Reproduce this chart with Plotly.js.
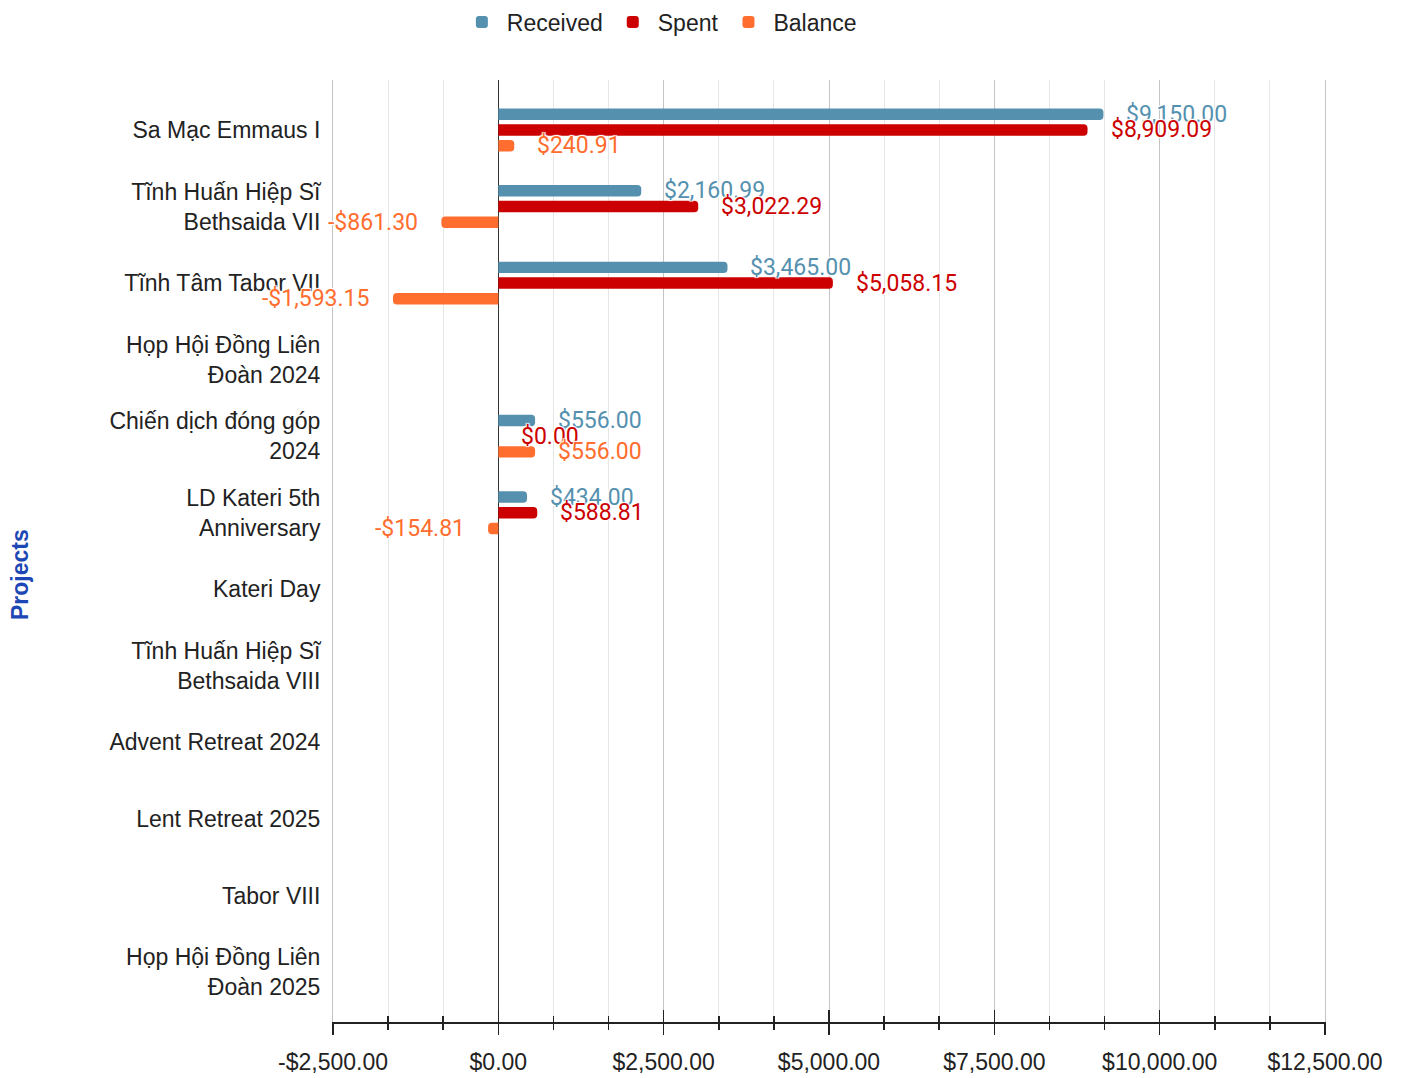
<!DOCTYPE html>
<html>
<head>
<meta charset="utf-8">
<script src="https://cdn.plot.ly/plotly-3.0.1.min.js"></script>
<style>html,body{margin:0;padding:0;background:#fff;}#chart{width:1403px;height:1078px;}</style>
</head>
<body>
<div id="chart"></div>
<script>
// ---- data ----
var categories = [
  "Sa Mạc Emmaus I",
  "Tĩnh Huấn Hiệp Sĩ<br>Bethsaida VII",
  "Tĩnh Tâm Tabor VII",
  "Họp Hội Đồng Liên<br>Đoàn 2024",
  "Chiến dịch đóng góp<br>2024",
  "LD Kateri 5th<br>Anniversary",
  "Kateri Day",
  "Tĩnh Huấn Hiệp Sĩ<br>Bethsaida VIII",
  "Advent Retreat 2024",
  "Lent Retreat 2025",
  "Tabor VIII",
  "Họp Hội Đồng Liên<br>Đoàn 2025"
];
var received = [9150.00, 2160.99, 3465.00, null, 556.00, 434.00, null, null, null, null, null, null];
var spent    = [8909.09, 3022.29, 5058.15, null, 0.00, 588.81, null, null, null, null, null, null];
var balance  = [240.91, -861.30, -1593.15, null, 556.00, -154.81, null, null, null, null, null, null];
var seriesNames = ["Received", "Spent", "Balance"];
var tickVals = [-2500, 0, 2500, 5000, 7500, 10000, 12500];
var tickText = ["-$2,500.00", "$0.00", "$2,500.00", "$5,000.00", "$7,500.00", "$10,000.00", "$12,500.00"];

// ---- styles ----
var colors = ["#5591AF", "#CC0000", "#FF6D2F"];
var seriesData = [received, spent, balance];
var baseFont = "Liberation Sans, Arial, sans-serif";
var labelFont = "Roboto, Liberation Sans, sans-serif";

function fmt(v) {
  var s = Math.abs(v).toFixed(2).split(".");
  s[0] = s[0].replace(/\B(?=(\d{3})+(?!\d))/g, ",");
  return (v < 0 ? "-$" : "$") + s[0] + "." + s[1];
}

var traces = seriesData.map(function (vals, i) {
  return {
    type: "bar",
    orientation: "h",
    name: seriesNames[i],
    y: categories,
    x: vals,
    marker: {color: colors[i]},
    hoverinfo: "skip"
  };
});
// empty helper trace so the secondary tick axis (inside tick marks) is drawn
traces.push({type: "scatter", x: [], y: [], xaxis: "x2", yaxis: "y", showlegend: false, hoverinfo: "skip"});

var bargap = 0.385;
var catPx = 76.55;
var slotPx = (1 - bargap) / 3 * catPx;
var halo = "-1px -1px 1px #fff, 1px -1px 1px #fff, -1px 1px 1px #fff, 1px 1px 1px #fff";

var annotations = [];
seriesData.forEach(function (vals, i) {
  vals.forEach(function (v, j) {
    if (v === null) return;
    var neg = v < 0;
    annotations.push({
      x: v, y: categories[j], xref: "x", yref: "y",
      text: fmt(v), showarrow: false,
      xanchor: neg ? "right" : "left",
      yanchor: "middle",
      xshift: neg ? -21 : 21,
      yshift: (1 - i) * slotPx,
      font: {family: labelFont, size: 23, color: colors[i], shadow: halo}
    });
  });
});

annotations.push({
  text: "<b>Projects</b>", textangle: -90, showarrow: false,
  xref: "paper", yref: "paper", x: -0.3155, y: 0.4745,
  xanchor: "center", yanchor: "middle",
  font: {family: baseFont, size: 23, color: "#1D47B4"}
});

var layout = {
  width: 1403, height: 1078,
  margin: {l: 333, r: 78, t: 80, b: 56, autoexpand: false},
  paper_bgcolor: "#fff", plot_bgcolor: "#fff",
  font: {family: baseFont, size: 23, color: "#222"},
  barmode: "group",
  bargap: bargap,
  bargroupgap: 0.27,
  barcornerradius: 4,
  showlegend: true,
  legend: {
    orientation: "h", x: 0.329, xanchor: "center", y: 1.0616, yanchor: "middle",
    itemwidth: 40,
    font: {family: baseFont, size: 23, color: "#222"}, traceorder: "normal"
  },
  xaxis: {
    range: [-2500, 12500],
    tickmode: "array", tickvals: tickVals, ticktext: tickText,
    showgrid: true, gridcolor: "#c4c4c4", gridwidth: 1,
    zeroline: true, zerolinecolor: "#333", zerolinewidth: 1.5,
    showline: true, linecolor: "#222", linewidth: 1.5,
    ticks: "outside", ticklen: 11, tickcolor: "#222", tickwidth: 1.5,
    ticklabelstandoff: 8,
    tickfont: {family: baseFont, size: 23, color: "#222"},
    minor: {dtick: 2500 / 3, tick0: -2500, showgrid: true, gridcolor: "#e6e6e6", ticks: "outside", ticklen: 6, tickcolor: "#222"},
    fixedrange: true
  },
  xaxis2: {
    overlaying: "x", anchor: "y", side: "bottom",
    range: [-2500, 12500],
    tickmode: "array", tickvals: tickVals, showticklabels: false,
    showgrid: false, zeroline: false, showline: false,
    ticks: "inside", ticklen: 12, tickcolor: "#222", tickwidth: 1.5,
    minor: {dtick: 2500 / 3, tick0: -2500, showgrid: false, ticks: "inside", ticklen: 6, tickcolor: "#222"},
    fixedrange: true
  },
  yaxis: {
    type: "category", categoryorder: "array", categoryarray: categories,
    range: [11.653, -0.653],
    showgrid: false, zeroline: false,
    showline: true, mirror: true, linecolor: "#c4c4c4", linewidth: 1,
    ticks: "",
    ticklabelstandoff: 7,
    tickfont: {family: baseFont, size: 23, color: "#222"},
    fixedrange: true
  },
  annotations: annotations
};

Plotly.newPlot("chart", traces, layout, {displayModeBar: false, staticPlot: true});
</script>
</body>
</html>
